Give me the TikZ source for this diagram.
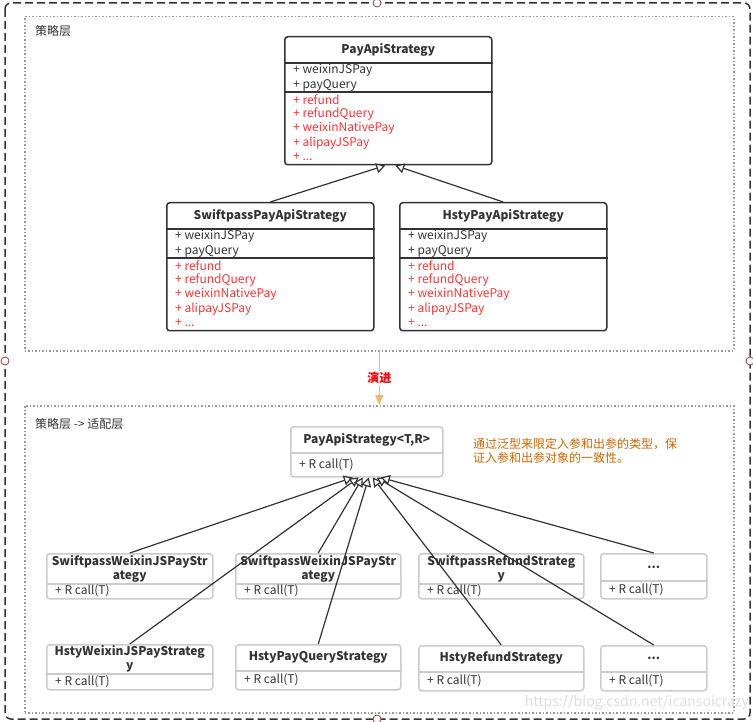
\documentclass[tikz,border=0pt]{standalone}
\usepackage{fontspec}
\setmainfont{Noto Sans CJK SC}
\usepackage{xcolor}
\usetikzlibrary{arrows.meta}

\definecolor{textdark}{HTML}{333333}
\definecolor{textred}{HTML}{FF3333}
\definecolor{boxgray}{HTML}{CCCCCC}
\definecolor{dotgray}{HTML}{999999}
\definecolor{evolveorange}{HTML}{FFB366}
\definecolor{notebrown}{HTML}{CC6600}
\definecolor{jointred}{HTML}{A03C3C}

\newcommand{\etcdots}{...}

\tikzset{
  frame/.style={draw=textdark, line width=1.5pt, dash pattern=on 8pt off 4pt, rounded corners=6pt},
  joint/.style={draw=jointred, fill=white, line width=0.8pt},
  region/.style={draw=dotgray, line width=1.5pt, dash pattern=on 1.5pt off 2pt, minimum width=709pt, minimum height=334pt, anchor=north west, inner sep=0pt},
  regionlabel/.style={anchor=west, inner sep=0pt, text=textdark},
  classbox/.style={draw=textdark, line width=1.5pt, rounded corners=3pt, fill=white, minimum width=207pt, minimum height=128pt, anchor=north west, inner sep=0pt},
  lightbox/.style={draw=boxgray, line width=1.5pt, rounded corners=3pt, fill=white, anchor=north west, inner sep=0pt},
  classtitle/.style={font=\fontsize{12}{14}\selectfont\bfseries, text=textdark, align=center, inner sep=0pt},
  member/.style={anchor=west, inner sep=0pt},
  inherit/.style={draw=textdark, line width=1.2pt, -{Triangle[length=9pt, width=10pt, fill=white]}},
  evolve/.style={draw=evolveorange, line width=1.5pt, -{Triangle[length=10pt, width=8pt]}},
}

\begin{document}
\begin{tikzpicture}[x=1pt, y=-1pt, font=\fontsize{12}{14}\selectfont]
\useasboundingbox (0,0) rectangle (753,722);

% outer frame
\draw[frame] (5,3) rectangle (750,719);
\foreach \p in {(377,3),(5,361),(750,361),(377,719)}
  \draw[joint] \p circle[radius=4pt];

% the two layers
\node[region] (upper) at (24,16) {};
\node[region, minimum height=307pt] (lower) at (24,405) {};
\node[regionlabel] (upperlabel) at (35,31) {策略层};
\node[regionlabel] (lowerlabel) at (35,424) {策略层 -> 适配层};

% strategy classes
\foreach \nm/\bx/\by/\ttl in {pay/284/36/PayApiStrategy, swift/166/202/SwiftpassPayApiStrategy, hsty/399/202/HstyPayApiStrategy} {
  \node[classbox] (\nm) at (\bx,\by) {};
  \draw[textdark, line width=1.5pt] ([yshift=-27pt]\nm.north west) -- ([yshift=-27pt]\nm.north east);
  \draw[textdark, line width=1.5pt] ([yshift=-56pt]\nm.north west) -- ([yshift=-56pt]\nm.north east);
  \node[classtitle] at ([yshift=-13.5pt]\nm.north) {\ttl};
  \foreach \dy/\txt/\col in {34/weixinJSPay/textdark, 49/payQuery/textdark, 64/refund/textred, 78/refundQuery/textred, 92/weixinNativePay/textred, 107/alipayJSPay/textred, 121/\etcdots/textred}
    \node[member, text=\col] at ([xshift=9pt, yshift=-\dy pt]\nm.north west) {+ \txt};
}

\draw[inherit] (swift.north) -- ([xshift=-3pt]pay.south);
\draw[inherit] (hsty.north) -- ([xshift=7pt]pay.south);

% evolution arrow
\draw[evolve] (upper.south) -- (lower.north)
  node[midway, fill=white, inner sep=1pt, text=red, font=\fontsize{12}{14}\selectfont\bfseries] {演进};

% generic strategy
\node[lightbox, minimum width=152pt, minimum height=50pt] (gen) at (290,426) {};
\draw[boxgray, line width=1.5pt] ([yshift=-27pt]gen.north west) -- ([yshift=-27pt]gen.north east);
\node[classtitle] at ([yshift=-13.5pt]gen.north) {PayApiStrategy<T,R>};
\node[member, text=textdark] at ([xshift=9pt, yshift=-39pt]gen.north west) {+ R call(T)};

\node[anchor=west, align=left, inner sep=0pt, text=notebrown] (note) at (473,451)
  {通过泛型来限定入参和出参的类型，保\\证入参和出参对象的一致性。};

% adapters
\foreach \nm/\bx/\by/\bw/\hd/\ttl in {
    c1/46/553/166/31/{SwiftpassWeixinJSPayStr\\ategy},
    c2/235/553/165/31/{SwiftpassWeixinJSPayStr\\ategy},
    c3/418/553/165/31/{SwiftpassRefundStrateg\\y},
    c4/600/553/106/28/\etcdots,
    d1/46/644/166/30/{HstyWeixinJSPayStrateg\\y},
    d2/235/644/165/27/HstyPayQueryStrategy,
    d3/418/645/165/27/HstyRefundStrategy,
    d4/600/645/106/27/\etcdots} {
  \node[lightbox, minimum width=\bw pt, minimum height=45pt] (\nm) at (\bx,\by) {};
  \draw[boxgray, line width=1.5pt] ([yshift=-\hd pt]\nm.north west) -- ([yshift=-\hd pt]\nm.north east);
  \node[classtitle] at ([yshift=-\hd pt/2]\nm.north) {\ttl};
  \node[member, text=textdark] at ([xshift=9pt, yshift=-\hd pt/2-22.5pt]\nm.north west) {+ R call(T)};
}

\foreach \c/\s in {c1/-14, d1/-8, c2/-4, d2/2, d3/6, d4/10, c4/14}
  \draw[inherit] (\c.north) -- ([xshift=\s pt]gen.south);

% watermark
\node[anchor=east, inner sep=0pt, text=black!13, font=\fontsize{14}{16}\selectfont] (mark) at (749,703) {https://blog.csdn.net/icansoicrazy};
\end{tikzpicture}
\end{document}
